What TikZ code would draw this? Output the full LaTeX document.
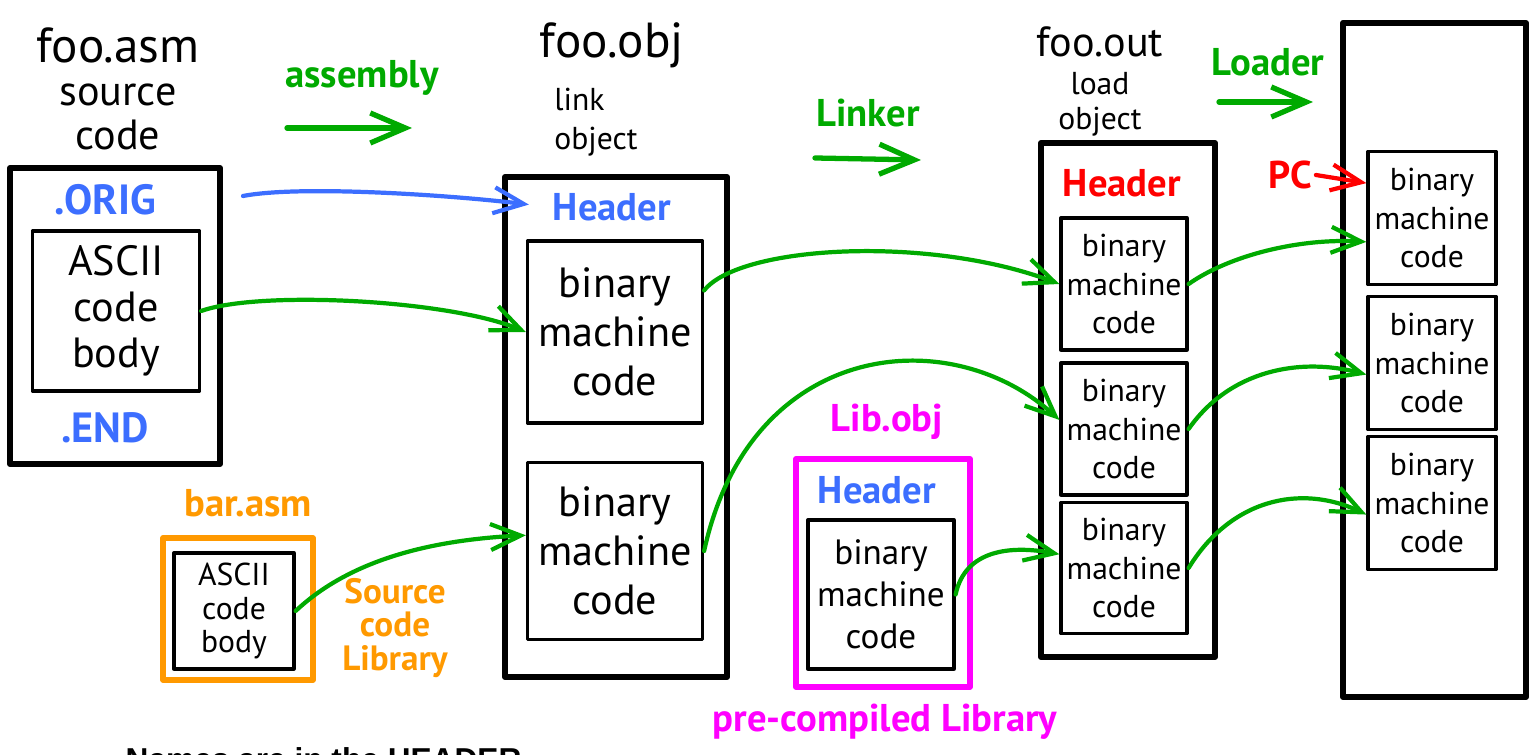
\documentclass[tikz,border=0pt]{standalone}
\usepackage{fontspec}
\setmainfont{PT Sans}
\newfontfamily\notefont{Liberation Sans}
\usetikzlibrary{arrows.meta}
\definecolor{lgreen}{RGB}{0,170,0}
\definecolor{lblue}{RGB}{60,110,255}
\definecolor{lorange}{RGB}{255,153,0}
\definecolor{lmag}{RGB}{255,0,255}
\newcommand{\fsz}[2]{\fontsize{#1}{#2}\selectfont}

\begin{document}
\begin{tikzpicture}[x=0.01cm, y=-0.01cm, line join=round, line cap=round,
	>={Straight Barb[length=3mm,width=2.6mm]},
	obox/.style={draw, line width=1.6pt, inner sep=0pt},
	ibox/.style={draw, line width=0.9pt, align=center, inner sep=0pt},
	txt/.style={align=center, inner sep=1pt},
	flow/.style={->, line width=1.2pt, lgreen},
	stage/.style={->, line width=1.5pt, lgreen, >={Straight Barb[length=3.5mm,width=3mm]}}]
	\useasboundingbox (0,0) rectangle (1535,755);
	% foo.asm
	\node[txt, font=\fsz{14}{15}] (asmname) at (118,45) {foo.asm};
	\node[txt, font=\fsz{12}{12.5}] (asmsrc) at (118,117) {source\\code};
	\node[obox, minimum width=2.10cm, minimum height=2.96cm] (asm) at (115,316) {};
	\node[txt, font=\bfseries\fsz{12}{14}, text=lblue] (orig) at (105,200) {.ORIG};
	\node[ibox, minimum width=1.67cm, minimum height=1.60cm, font=\fsz{12}{13}] (ascii) at (116,311) {ASCII\\code\\body};
	\node[txt, font=\bfseries\fsz{12}{14}, text=lblue] (end) at (105,428) {.END};
	% foo.obj
	\node[txt, font=\fsz{14}{15}] (objname) at (612,45) {foo.obj};
	\node[txt, font=\fsz{9}{11}, align=left] (objlink) at (596,122) {link\\object};
	\node[obox, minimum width=2.22cm, minimum height=5.00cm] (obj) at (616,427) {};
	\node[txt, font=\bfseries\fsz{11}{13}, text=lblue] (objhdr) at (612,207) {Header};
	\node[ibox, minimum width=1.75cm, minimum height=1.82cm, font=\fsz{12}{14}] (ob1) at (615,332) {binary\\machine\\code};
	\node[ibox, minimum width=1.75cm, minimum height=1.77cm, font=\fsz{12}{14}] (ob2) at (615,551) {binary\\machine\\code};
	% foo.out
	\node[txt, font=\fsz{12}{14}] (outname) at (1100,42) {foo.out};
	\node[txt, font=\fsz{9}{10}] (outload) at (1100,104) {load\\object};
	\node[obox, minimum width=1.74cm, minimum height=5.14cm] (out) at (1128,400) {};
	\node[txt, font=\bfseries\fsz{11}{13}, text=red] (outhdr) at (1122,183) {Header};
	\node[ibox, minimum width=1.26cm, minimum height=1.32cm, font=\fsz{9}{11}] (ou1) at (1124,284) {binary\\machine\\code};
	\node[ibox, minimum width=1.26cm, minimum height=1.32cm, font=\fsz{9}{11}] (ou2) at (1124,429) {binary\\machine\\code};
	\node[ibox, minimum width=1.26cm, minimum height=1.31cm, font=\fsz{9}{11}] (ou3) at (1124,568) {binary\\machine\\code};
	% memory
	\node[obox, minimum width=1.83cm, minimum height=6.74cm] (mem) at (1434.5,360) {};
	\node[ibox, minimum width=1.28cm, minimum height=1.33cm, font=\fsz{9}{11}] (m1) at (1432,218) {binary\\machine\\code};
	\node[ibox, minimum width=1.28cm, minimum height=1.33cm, font=\fsz{9}{11}] (m2) at (1432,363) {binary\\machine\\code};
	\node[ibox, minimum width=1.28cm, minimum height=1.33cm, font=\fsz{9}{11}] (m3) at (1432,503) {binary\\machine\\code};
	\node[txt, font=\bfseries\fsz{11}{13}, text=red] (pc) at (1290,175) {PC};
	% bar.asm
	\node[txt, font=\bfseries\fsz{11}{13}, text=lorange] (barname) at (248,503) {bar.asm};
	\node[obox, draw=lorange, minimum width=1.50cm, minimum height=1.42cm] (bar) at (238,609) {};
	\node[ibox, minimum width=1.20cm, minimum height=1.16cm, font=\fsz{9}{9.5}] (barbody) at (234,611) {ASCII\\code\\body};
	\node[txt, font=\bfseries\fsz{10}{9.5}, text=lorange] (srclib) at (395,628) {Source\\code\\Library};
	% Lib.obj
	\node[txt, font=\bfseries\fsz{11}{13}, text=lmag] (libname) at (887,422) {Lib.obj};
	\node[obox, draw=lmag, minimum width=1.74cm, minimum height=2.28cm] (lib) at (883,573) {};
	\node[txt, font=\bfseries\fsz{11}{13}, text=lblue] (libhdr) at (877,490) {Header};
	\node[ibox, minimum width=1.46cm, minimum height=1.49cm, font=\fsz{10}{12}] (lb) at (881,594.5) {binary\\machine\\code};
	\node[txt, font=\bfseries\fsz{11}{13}, text=lmag] (precomp) at (885,722) {pre-compiled Library};
	% stages
	\node[txt, font=\bfseries\fsz{11}{13}, text=lgreen] (assembly) at (362,78) {assembly};
	\node[txt, font=\bfseries\fsz{11}{13}, text=lgreen] (linker) at (868,113) {Linker};
	\node[txt, font=\bfseries\fsz{11}{13}, text=lgreen] (loader) at (1268,62) {Loader};
	\coordinate (as1) at (287,128); \coordinate (as2) at (412,128);
	\coordinate (lk1) at (815,158); \coordinate (lk2) at (921,160);
	\coordinate (ld1) at (1219,102); \coordinate (ld2) at (1313,102);
	\draw[stage] (as1) -- (as2);
	\draw[stage] (lk1) -- (lk2);
	\draw[stage] (ld1) -- (ld2);
	% connectors
	\coordinate (origout) at (243,196);
	\draw[flow, lblue, shorten >=2mm] (origout) .. controls (300,185) and (450,195) .. (objhdr.west);
	\draw[flow] (ascii.east) .. controls (260,290) and (450,300) .. (ob1.west);
	\draw[flow] (barbody.east) .. controls (350,560) and (430,540) .. (ob2.170);
	\draw[flow] (ob1.25) .. controls (740,245) and (930,235) .. (ou1.west);
	\draw[flow] (ob2.east) .. controls (750,340) and (950,320) .. (ou2.172);
	\draw[flow] (lb.east) .. controls (965,550) and (1010,545) .. (ou3.168);
	\draw[flow] (ou1.east) .. controls (1230,255) and (1300,238) .. (m1.200);
	\draw[flow] (ou2.east) .. controls (1230,370) and (1300,357) .. (m2.190);
	\draw[flow] (ou3.east) .. controls (1230,500) and (1300,483) .. (m3.190);
	\draw[flow, red] (pc.east) -- (m1.152);
	% cut-off note
	\node[anchor=north west, inner sep=0pt, font=\notefont\bfseries\fsz{9}{11}] (note) at (125,747) {Names are in the HEADER};
\end{tikzpicture}
\end{document}
